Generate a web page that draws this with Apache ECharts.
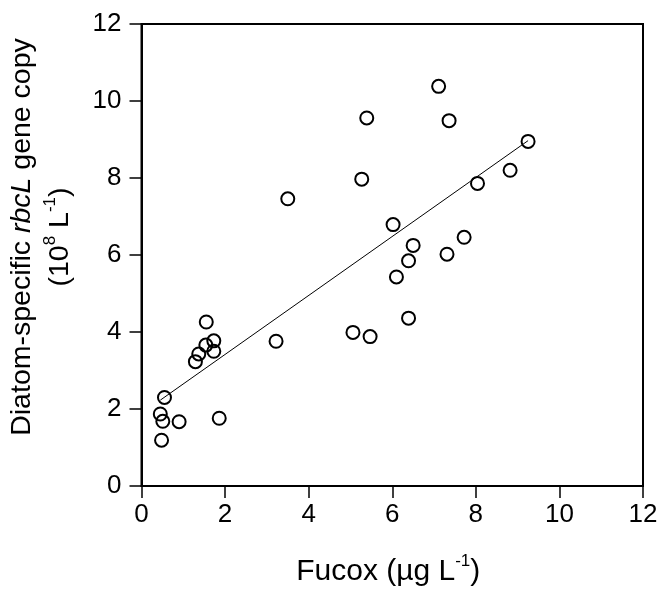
<!DOCTYPE html>
<html>
<head>
<meta charset="utf-8">
<script src="https://cdn.jsdelivr.net/npm/echarts@6/dist/echarts.min.js"></script>
<style>
html,body{margin:0;padding:0;background:#fff;}
#chart{width:663px;height:598px;}
</style>
</head>
<body>
<div id="chart"></div>
<script>
// Fucoxanthin (µg/L) vs diatom-specific rbcL gene copy (10^8 /L)
const fucox = [7.11, 5.39, 7.36, 9.25, 8.82, 8.04, 5.27, 3.50, 6.02, 7.72, 6.50, 7.31, 6.39, 6.10, 6.39,
               5.06, 5.47, 3.22, 1.55, 1.73, 1.54, 1.73, 1.37, 1.29, 0.55, 0.45, 0.51, 0.90, 1.86, 0.48];
const rbcL  = [10.38, 9.56, 9.49, 8.95, 8.20, 7.86, 7.97, 7.46, 6.79, 6.46, 6.25, 6.02, 5.85, 5.43, 4.36,
               3.99, 3.88, 3.76, 4.26, 3.77, 3.66, 3.50, 3.43, 3.23, 2.30, 1.87, 1.68, 1.67, 1.76, 1.19];
// Regression line end points
const fitX = [0.45, 9.25];
const fitY = [2.23, 8.97];
const xTicks = [0, 2, 4, 6, 8, 10, 12];
const yTicks = [0, 2, 4, 6, 8, 10, 12];

const FONT = 'Liberation Sans, Arial, sans-serif';
const chart = echarts.init(document.getElementById('chart'));
const axisCommon = {
  min: 0, max: 12, interval: 2,
  axisLine: {show: true, lineStyle: {color: '#000', width: 2}},
  axisTick: {show: true, inside: false, length: 12, lineStyle: {color: '#000', width: 1.5}},
  splitLine: {show: false},
  axisLabel: {color: '#000', fontSize: 26, fontFamily: FONT}
};
chart.setOption({
  backgroundColor: '#fff',
  animation: false,
  grid: {left: 141, right: 20, top: 24, bottom: 112, show: true, borderColor: '#000', borderWidth: 2, backgroundColor: 'transparent'},
  xAxis: Object.assign({}, axisCommon, {
    type: 'value',
    axisLabel: Object.assign({}, axisCommon.axisLabel, {margin: 16}),
    name: '{n|Fucox (µg L}{s|-1}{n|)}',
    nameLocation: 'middle',
    nameGap: 67,
    nameTextStyle: {
      fontFamily: FONT, color: '#000', padding: [0, 8, 0, 0],
      rich: {
        n: {fontSize: 30, lineHeight: 38, fontFamily: FONT, color: '#000'},
        s: {fontSize: 17, lineHeight: 27, verticalAlign: 'top', fontFamily: FONT, color: '#000'}
      }
    }
  }),
  yAxis: Object.assign({}, axisCommon, {
    type: 'value',
    axisLabel: Object.assign({}, axisCommon.axisLabel, {margin: 20}),
    name: '{n|Diatom-specific }{i|rbcL}{n| gene copy}\n{n|(10}{s|8}{n| L}{s|-1}{n|)}',
    nameLocation: 'middle',
    nameRotate: 90,
    nameGap: 62,
    nameTextStyle: {
      fontFamily: FONT, color: '#000', align: 'center', padding: [0, 0, 0, 36],
      rich: {
        n: {fontSize: 28.5, lineHeight: 38, fontFamily: FONT, color: '#000', align: 'center'},
        i: {fontSize: 28.5, lineHeight: 38, fontFamily: FONT, fontStyle: 'italic', color: '#000'},
        s: {fontSize: 17, lineHeight: 28, verticalAlign: 'top', fontFamily: FONT, color: '#000'}
      }
    }
  }),
  series: [
    {
      type: 'line',
      data: fitX.map((x, i) => [x, fitY[i]]),
      symbol: 'none',
      lineStyle: {color: '#000', width: 1},
      z: 1
    },
    {
      type: 'scatter',
      data: fucox.map((x, i) => [x, rbcL[i]]),
      symbol: 'circle',
      symbolSize: 13,
      itemStyle: {color: 'rgba(0,0,0,0)', borderColor: '#000', borderWidth: 2, opacity: 1},
      z: 2
    }
  ]
});
</script>
</body>
</html>
